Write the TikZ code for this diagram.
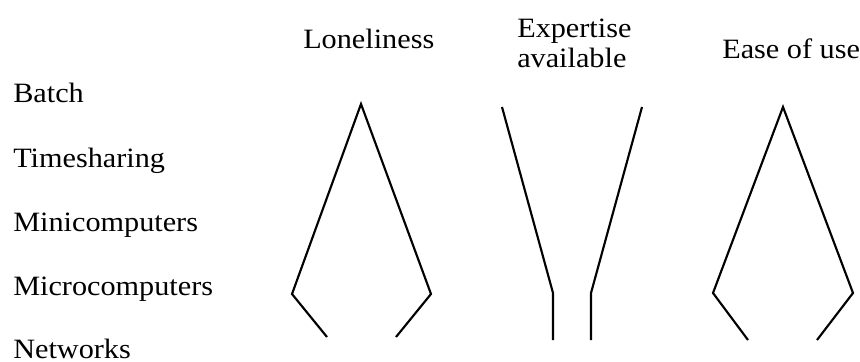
\documentclass[tikz,border=0pt]{standalone}
\usepackage{fontspec}
\setmainfont{Liberation Serif}[FakeStretch=1.08]
\begin{document}
\begin{tikzpicture}[x=0.75pt,y=-0.75pt,
  lbl/.style={anchor=base west,inner sep=0pt,font=\fontsize{21pt}{25pt}\selectfont},
  shape line/.style={line width=1.6pt,line join=miter}]
\useasboundingbox (0,0) rectangle (860,361);
% row labels
\node[lbl] (batch) at (13,102) {Batch};
\node[lbl] (time) at (13,167) {Timesharing};
\node[lbl] (mini) at (13,231) {Minicomputers};
\node[lbl] (micro) at (13,295) {Microcomputers};
\node[lbl] (net) at (13,358) {Networks};
% column labels
\node[lbl] (lone) at (303,48) {Loneliness};
\node[lbl] (exp1) at (517,37) {Expertise};
\node[lbl] (exp2) at (517,67) {available};
\node[lbl] (ease) at (722,58) {Ease of use};
% Loneliness shape
\coordinate (la) at (361,104);
\coordinate (ll) at (292,294);
\coordinate (lr) at (431,294);
\coordinate (lbl1) at (327,337);
\coordinate (lbr) at (396,337);
\draw[shape line] (lbl1) -- (ll) -- (la) -- (lr) -- (lbr);
% Expertise shape
\coordinate (e1) at (502,107);
\coordinate (e2) at (553,293);
\coordinate (e3) at (553,340);
\coordinate (f1) at (642,107);
\coordinate (f2) at (591,293);
\coordinate (f3) at (591,340);
\draw[shape line] (e1) -- (e2) -- (e3);
\draw[shape line] (f1) -- (f2) -- (f3);
% Ease of use shape
\coordinate (ua) at (783,107);
\coordinate (ul) at (713,293);
\coordinate (ur) at (853,293);
\coordinate (ubl) at (748,340);
\coordinate (ubr) at (817,340);
\draw[shape line] (ubl) -- (ul) -- (ua) -- (ur) -- (ubr);
\end{tikzpicture}
\end{document}
